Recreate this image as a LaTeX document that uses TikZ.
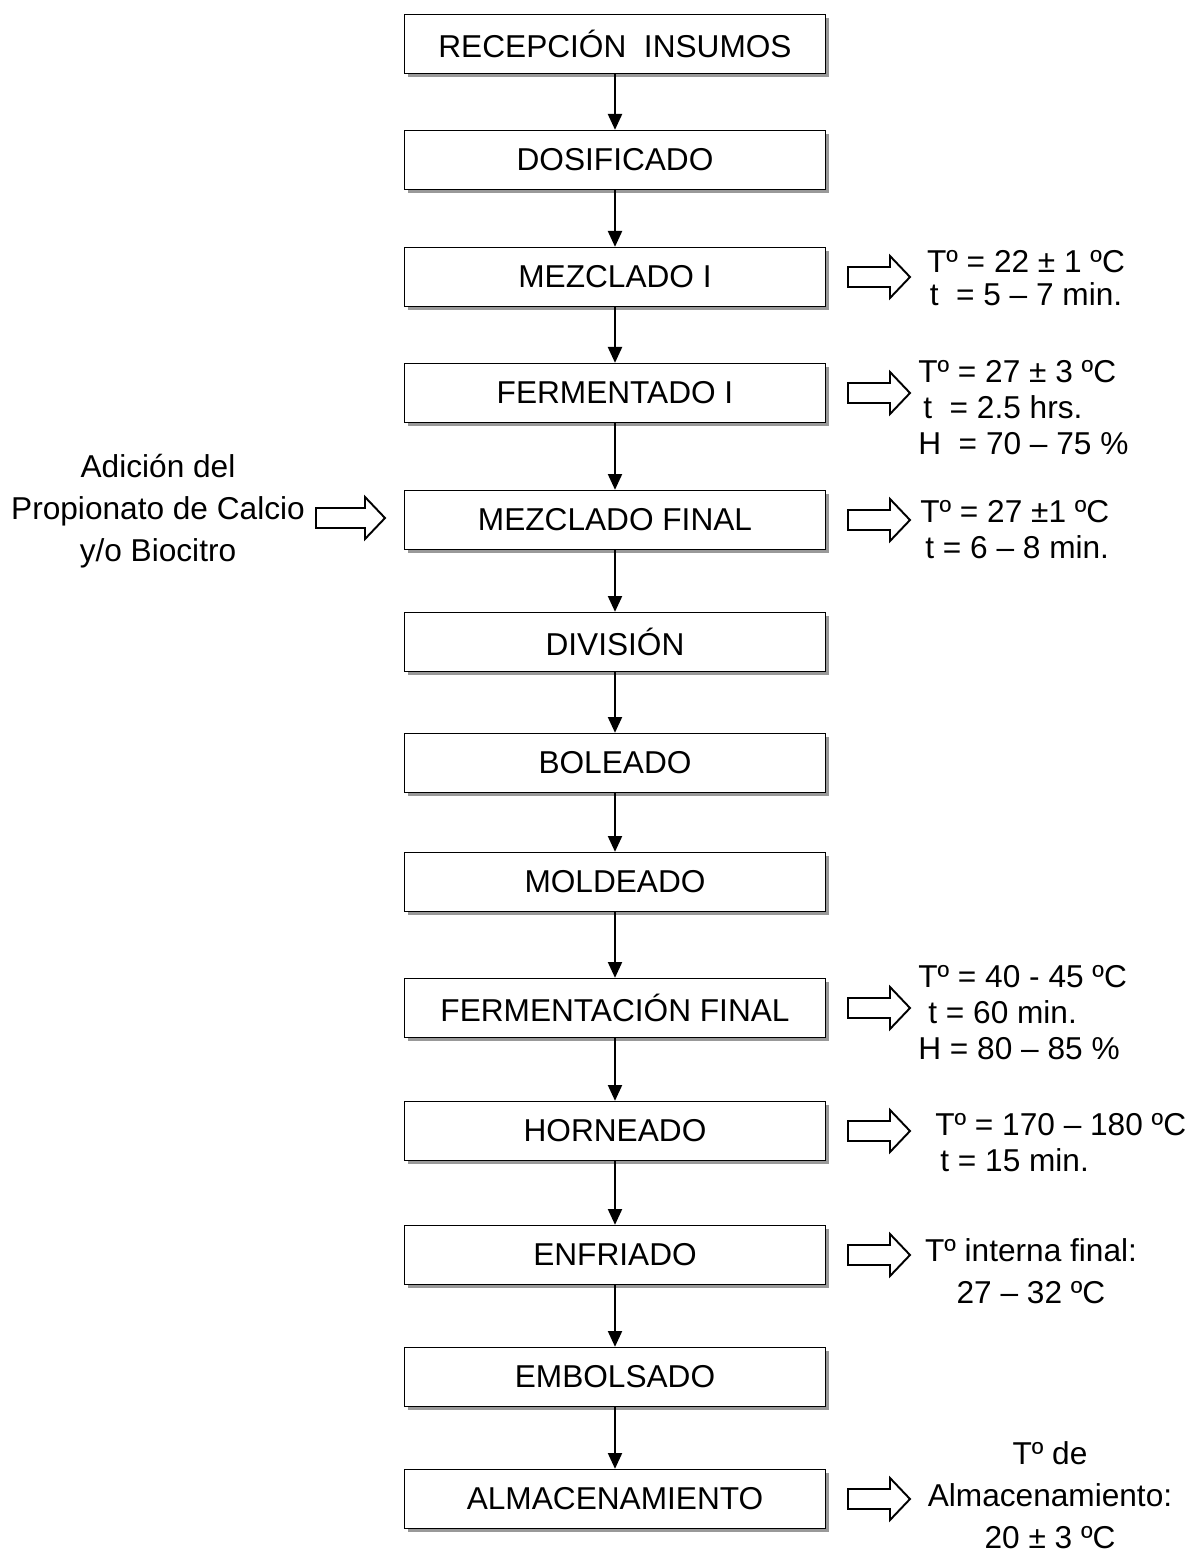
\documentclass[tikz,border=0pt]{standalone}
\usepackage{fontspec}
\setmainfont{Liberation Sans}
\usetikzlibrary{arrows.meta,shadows}

\begin{document}
\begin{tikzpicture}[
  x=0.02cm, y=-0.02cm,
  every node/.style={font=\fontsize{18}{20.5}\selectfont},
  stage/.style={draw=black, line width=.8pt, fill=white, inner sep=0pt,
                minimum width=8.42cm, minimum height=1.18cm,
                drop shadow={shadow xshift=2.2pt, shadow yshift=-2.2pt,
                             fill=black!40, opacity=1}},
  note/.style={inner sep=0pt},
  flow/.style={draw=black, line width=1.1pt,
               -{Triangle[length=9pt,width=8pt]}},
  pics/hollow/.style={code={
    \draw[line width=1.1pt,fill=white] (0,-10) -- (#1-20,-10) -- (#1-20,-21)
      -- (#1,0) -- (#1-20,21) -- (#1-20,10) -- (0,10) -- cycle;}}
]
\useasboundingbox (0,0) rectangle (1191,1556);

% process stages
\node[stage] (recep) at (615,44)   {RECEPCIÓN~~INSUMOS};
\node[stage] (dosif) at (615,160)  {DOSIFICADO};
\node[stage] (mezc1) at (615,277)  {MEZCLADO I};
\node[stage] (ferm1) at (615,393)  {FERMENTADO I};
\node[stage] (mezcf) at (615,520)  {MEZCLADO FINAL};
\node[stage] (divis) at (615,642)  {DIVISIÓN};
\node[stage] (bolea) at (615,763)  {BOLEADO};
\node[stage] (molde) at (615,882)  {MOLDEADO};
\node[stage] (fermf) at (615,1008) {FERMENTACIÓN FINAL};
\node[stage] (horne) at (615,1131) {HORNEADO};
\node[stage] (enfri) at (615,1255) {ENFRIADO};
\node[stage] (embol) at (615,1377) {EMBOLSADO};
\node[stage] (almac) at (615,1499) {ALMACENAMIENTO};

\foreach \a/\b in {recep/dosif,dosif/mezc1,mezc1/ferm1,ferm1/mezcf,
                   mezcf/divis,divis/bolea,bolea/molde,molde/fermf,
                   fermf/horne,horne/enfri,enfri/embol,embol/almac}
  \draw[flow] (\a.south) -- (\b.north);

% side arrows
\pic at (316,518) {hollow=69};
\foreach \y in {277,393,520,1008,1131,1255,1499}
  \pic at (848,\y) {hollow=62};

% conditions
\node[note,align=center,font=\fontsize{18}{24}\selectfont] (addit) at (158,511)
  {Adición del\\Propionato de Calcio\\y/o Biocitro};
\node[note,align=center,font=\fontsize{18}{19}\selectfont] (cmez1) at (1026,278)
  {Tº = 22 ± 1 ºC\\t\ \ = 5 – 7 min.};
\node[note,align=left,anchor=west] (cfer1) at (918,408)
  {Tº = 27 ± 3 ºC\\\hspace*{.1cm}t\ \ = 2.5 hrs.\\H\ \ = 70 – 75 \%};
\node[note,align=left,anchor=west] (cmezf) at (920,530)
  {Tº = 27 ±1 ºC\\\hspace*{.1cm}t = 6 – 8 min.};
\node[note,align=left,anchor=west] (cferf) at (918,1013)
  {Tº = 40 - 45 ºC\\\hspace*{.2cm}t = 60 min.\\H = 80 – 85 \%};
\node[note,align=left,anchor=west] (chorn) at (935,1143)
  {Tº = 170 – 180 ºC\\\hspace*{.1cm}t = 15 min.};
\node[note,align=center,font=\fontsize{18}{24}\selectfont] (cenfr) at (1031,1271)
  {Tº interna final:\\27 – 32 ºC};
\node[note,align=center,font=\fontsize{18}{24}\selectfont] (calma) at (1050,1495)
  {Tº de\\Almacenamiento:\\20 ± 3 ºC};
\end{tikzpicture}
\end{document}
